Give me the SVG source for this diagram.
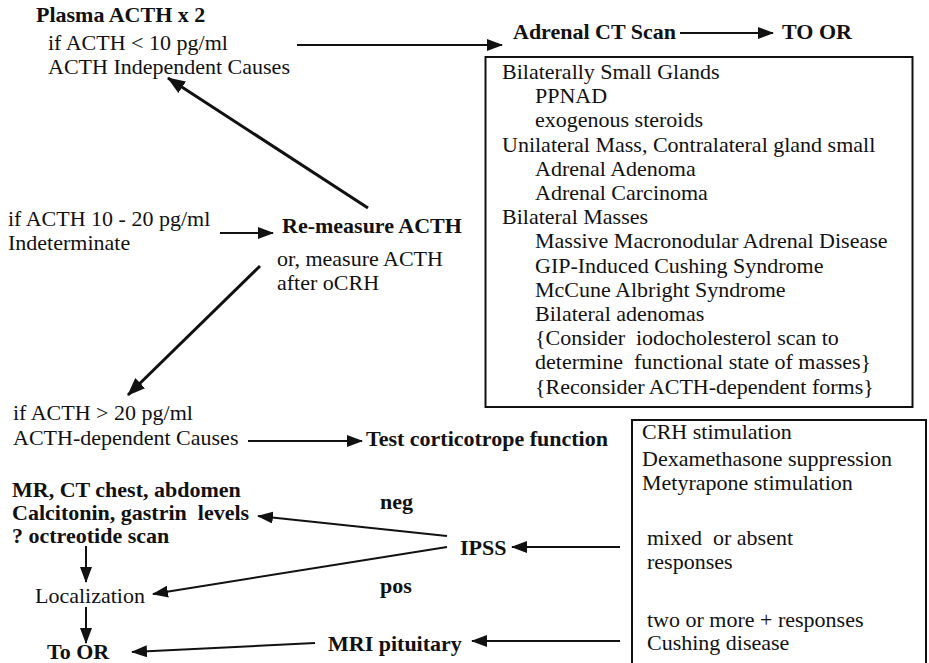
<svg xmlns="http://www.w3.org/2000/svg" width="929" height="663" viewBox="0 0 929 663">
<style>
text{font-family:"Liberation Serif","Times New Roman",serif;font-size:22px;fill:#111}
.b{font-weight:bold}
.pre{white-space:pre}
.ln{stroke:#111;stroke-width:2;fill:none}
.thk{stroke-width:3}
.box{fill:none;stroke:#111;stroke-width:2}
</style>
<defs>
<marker id="arr" viewBox="0 0 16 12" refX="15" refY="6" markerWidth="16" markerHeight="12" orient="auto" markerUnits="userSpaceOnUse">
<path d="M0,0 L16,6 L0,12 z" fill="#111"/>
</marker>
<marker id="arrL" viewBox="0 0 18 14" refX="17" refY="7" markerWidth="18" markerHeight="14" orient="auto" markerUnits="userSpaceOnUse">
<path d="M0,0 L18,7 L0,14 z" fill="#111"/>
</marker>
</defs>
<rect width="929" height="663" fill="#fff"/>

<g id="plasma">
<text class="b" x="36" y="22">Plasma ACTH x 2</text>
<text x="48" y="50">if ACTH &lt; 10 pg/ml</text>
<text x="48" y="74">ACTH Independent Causes</text>
</g>

<g id="ct">
<text class="b" x="513" y="39">Adrenal CT Scan</text>
</g>
<g id="toor1">
<text class="b" x="782" y="39">TO OR</text>
</g>

<g id="adrenal-box">
<rect class="box" x="485.5" y="57" width="427" height="350"/>
<text x="502" y="79">Bilaterally Small Glands</text>
<text x="535" y="103.2">PPNAD</text>
<text x="535" y="127.4">exogenous steroids</text>
<text x="502" y="151.6">Unilateral Mass, Contralateral gland small</text>
<text x="535" y="175.8">Adrenal Adenoma</text>
<text x="535" y="200">Adrenal Carcinoma</text>
<text x="502" y="224.2">Bilateral Masses</text>
<text x="535" y="248.4">Massive Macronodular Adrenal Disease</text>
<text x="535" y="272.6">GIP-Induced Cushing Syndrome</text>
<text x="535" y="296.8">McCune Albright Syndrome</text>
<text x="535" y="321">Bilateral adenomas</text>
<text class="pre" x="535" y="345.2">{Consider  iodocholesterol scan to</text>
<text class="pre" x="535" y="369.4">determine  functional state of masses}</text>
<text x="535" y="393.6">{Reconsider ACTH-dependent forms}</text>
</g>

<g id="indeterminate">
<text x="8" y="226">if ACTH 10 - 20 pg/ml</text>
<text x="8" y="250">Indeterminate</text>
</g>

<g id="remeasure">
<text class="b" x="282" y="233">Re-measure ACTH</text>
<text x="277" y="266">or, measure ACTH</text>
<text x="277" y="290">after oCRH</text>
</g>

<g id="dependent">
<text x="13" y="420">if ACTH &gt; 20 pg/ml</text>
<text x="13" y="445">ACTH-dependent Causes</text>
</g>

<g id="test">
<text class="b" x="366" y="446">Test corticotrope function</text>
</g>

<g id="tests-box">
<rect class="box" x="632" y="420" width="294" height="260"/>
<text x="642" y="439">CRH stimulation</text>
<text x="642" y="466">Dexamethasone suppression</text>
<text x="642" y="490">Metyrapone stimulation</text>
<text class="pre" x="647" y="545">mixed  or absent</text>
<text x="647" y="569">responses</text>
<text x="647" y="627">two or more + responses</text>
<text x="647" y="650">Cushing disease</text>
</g>

<g id="ectopic">
<text class="b" x="12" y="497">MR, CT chest, abdomen</text>
<text class="b pre" x="12" y="520">Calcitonin, gastrin  levels</text>
<text class="b" x="12" y="543">? octreotide scan</text>
</g>

<g id="ipss">
<text class="b" x="460" y="555">IPSS</text>
</g>
<g id="neg"><text class="b" x="380" y="509">neg</text></g>
<g id="pos"><text class="b" x="380" y="593">pos</text></g>

<g id="localization">
<text x="35" y="603">Localization</text>
</g>

<g id="toor2">
<text class="b" x="47" y="659">To OR</text>
</g>

<g id="mri">
<text class="b" x="328" y="651">MRI pituitary</text>
</g>

<g id="connectors">
<line class="ln" x1="297" y1="45" x2="502" y2="45" marker-end="url(#arr)"/>
<line class="ln" x1="680" y1="33" x2="773" y2="33" marker-end="url(#arr)"/>
<line class="ln thk" x1="368" y1="208" x2="168" y2="78" marker-end="url(#arrL)"/>
<line class="ln" x1="220" y1="233" x2="273" y2="233" marker-end="url(#arr)"/>
<line class="ln thk" x1="260" y1="266" x2="128" y2="395" marker-end="url(#arrL)"/>
<line class="ln" x1="248" y1="441" x2="362" y2="441" marker-end="url(#arr)"/>
<line class="ln" x1="620" y1="547" x2="512" y2="547" marker-end="url(#arr)"/>
<line class="ln" x1="447" y1="536" x2="258" y2="516" marker-end="url(#arr)"/>
<line class="ln" x1="447" y1="547" x2="153" y2="594" marker-end="url(#arr)"/>
<line class="ln" x1="86" y1="546" x2="86" y2="582" marker-end="url(#arr)"/>
<line class="ln" x1="86" y1="607" x2="86" y2="643" marker-end="url(#arr)"/>
<line class="ln" x1="620" y1="641" x2="472" y2="641" marker-end="url(#arr)"/>
<line class="ln" x1="315" y1="643" x2="132" y2="652" marker-end="url(#arr)"/>
</g>
</svg>
